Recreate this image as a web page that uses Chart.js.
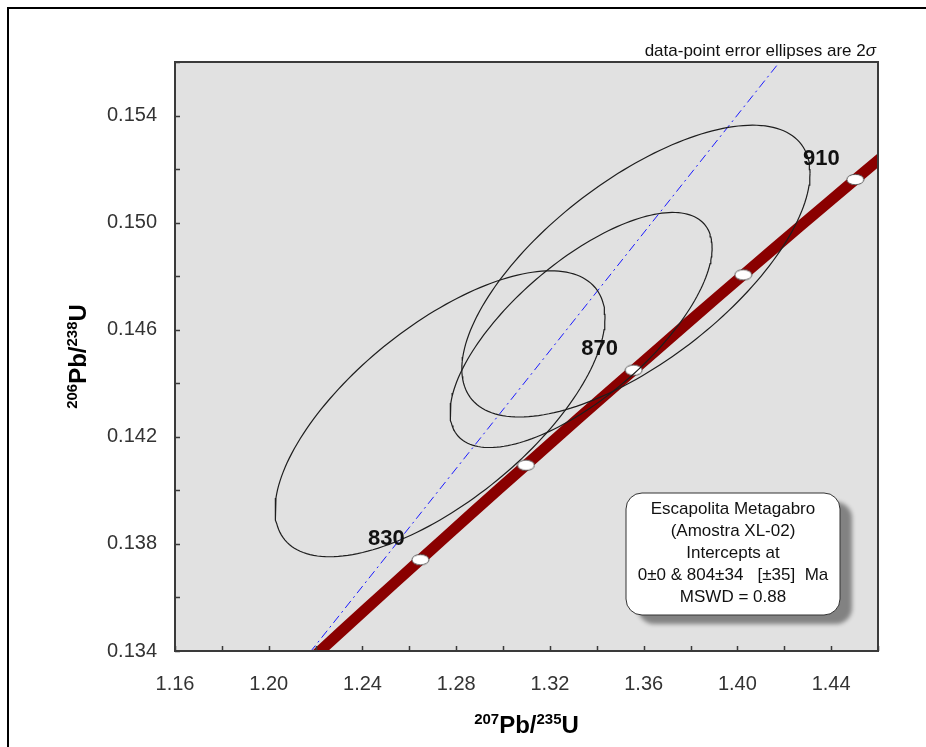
<!DOCTYPE html>
<html>
<head>
<meta charset="utf-8">
<script src="https://cdn.jsdelivr.net/npm/chart.js@4.4.1/dist/chart.umd.min.js"></script>
<style>
  html, body { margin: 0; padding: 0; background: #ffffff; }
  #wrap { position: relative; width: 926px; height: 747px; }
</style>
</head>
<body>
<div id="wrap"><canvas id="c" width="926" height="747"></canvas></div>
<script>
// Concordia curve: ages (Ma) with their 207Pb/235U and 206Pb/238U ratios
const concordiaAges = [800, 810, 820, 830, 840, 850, 860, 870, 880, 890, 900, 910, 920];
const concordiaX = [1.19873, 1.22049, 1.24246, 1.26472, 1.28707, 1.30977, 1.33256, 1.35572, 1.37896, 1.40251, 1.42629, 1.45030, 1.47455];
const concordiaY = [0.13213, 0.13389, 0.13565, 0.13741, 0.13918, 0.14094, 0.14272, 0.14449, 0.14627, 0.14805, 0.14983, 0.15161, 0.15340];
const markerAges = [830, 850, 870, 890, 910];
const labelledAges = [830, 870, 910];

// Analyses: 2-sigma error ellipses (centre, half-widths, error correlation)
const spotX = [1.2731, 1.3333, 1.3567];
const spotSX = [0.0704, 0.0559, 0.0743];
const spotY = [0.14286, 0.14599, 0.14819];
const spotSY = [0.00534, 0.00439, 0.00545];
const spotRho = [0.67, 0.70, 0.67];

// Discordia: from the upper intercept (804 Ma) towards the lower one (0 Ma)
const discordiaX = [1.20741, 1.41800];
const discordiaY = [0.13283, 0.15600];

// Axis ticks
const xTicks = [1.16, 1.18, 1.20, 1.22, 1.24, 1.26, 1.28, 1.30, 1.32, 1.34, 1.36, 1.38, 1.40, 1.42, 1.44, 1.46];
const xTickLabels = ['1.16', '1.20', '1.24', '1.28', '1.32', '1.36', '1.40', '1.44'];
const yTicks = [0.134, 0.136, 0.138, 0.140, 0.142, 0.144, 0.146, 0.148, 0.150, 0.152, 0.154, 0.156];
const yTickLabels = ['0.134', '0.138', '0.142', '0.146', '0.150', '0.154'];

const boxLines = ['Escapolita Metagabro', '(Amostra XL-02)', 'Intercepts at', '0\u00b10 & 804\u00b134   [\u00b135]  Ma', 'MSWD = 0.88'];

const FONT = '"Liberation Sans", Arial, sans-serif';

function ellipsePoints(i) {
  const pts = [];
  const n = 180;
  const k = Math.sqrt(1 - spotRho[i] * spotRho[i]);
  for (let j = 0; j <= n; j++) {
    const t = 2 * Math.PI * j / n;
    pts.push({
      x: spotX[i] + spotSX[i] * Math.cos(t),
      y: spotY[i] + spotSY[i] * (spotRho[i] * Math.cos(t) + k * Math.sin(t))
    });
  }
  return pts;
}

// small white ellipse used for the age markers
const markerImg = document.createElement('canvas');
markerImg.width = 19; markerImg.height = 13;
(function () {
  const g = markerImg.getContext('2d');
  g.beginPath();
  g.ellipse(9.5, 6.5, 8.5, 5.2, 0, 0, 2 * Math.PI);
  g.fillStyle = '#ffffff';
  g.fill();
  g.lineWidth = 1;
  g.strokeStyle = '#555555';
  g.stroke();
})();

const concordiaData = concordiaAges.map((a, i) => ({ x: concordiaX[i], y: concordiaY[i] }));
const markerData = markerAges.map(a => {
  const i = concordiaAges.indexOf(a);
  return { x: concordiaX[i], y: concordiaY[i] };
});

const datasets = [
  { label: 'concordia', data: concordiaData, showLine: true, borderColor: '#8a0000', borderWidth: 11,
    pointRadius: 0, tension: 0.3, order: 5, borderCapStyle: 'butt' },
  { label: 'ages', data: markerData, showLine: false, pointStyle: markerImg, pointRadius: 7, order: 4 },
  { label: 'discordia', data: discordiaX.map((x, i) => ({ x: x, y: discordiaY[i] })), showLine: true,
    borderColor: '#1a1aff', borderWidth: 1, borderDash: [9, 4, 2, 4], pointRadius: 0, order: 3 }
];
spotX.forEach((_, i) => {
  datasets.push({ label: 'spot' + (i + 1), data: ellipsePoints(i), showLine: true, borderColor: '#1e1e1e',
    borderWidth: 1.2, pointRadius: 0, tension: 0, order: 1 });
});

function drawRich(ctx, parts, x, y, align) {
  // parts: [text, fontSize, rise]
  let total = 0;
  parts.forEach(p => { ctx.font = 'bold ' + p[1] + 'px ' + FONT; total += ctx.measureText(p[0]).width; });
  let cx = align === 'center' ? x - total / 2 : x;
  ctx.textAlign = 'left';
  ctx.textBaseline = 'alphabetic';
  parts.forEach(p => {
    ctx.font = 'bold ' + p[1] + 'px ' + FONT;
    ctx.fillText(p[0], cx, y - p[2]);
    cx += ctx.measureText(p[0]).width;
  });
}

const decor = {
  id: 'decor',
  beforeDraw(chart) {
    const { ctx, chartArea: a } = chart;
    ctx.save();
    ctx.fillStyle = '#ffffff';
    ctx.fillRect(0, 0, chart.width, chart.height);
    ctx.fillStyle = '#e1e1e1';
    ctx.fillRect(a.left, a.top, a.right - a.left, a.bottom - a.top);
    ctx.restore();
  },
  afterDraw(chart) {
    const { ctx, chartArea: a, scales } = chart;
    const xs = scales.x, ys = scales.y;
    ctx.save();

    // age labels on the concordia
    ctx.fillStyle = '#111111';
    ctx.font = 'bold 22px ' + FONT;
    ctx.textAlign = 'center';
    ctx.textBaseline = 'middle';
    labelledAges.forEach(age => {
      const i = concordiaAges.indexOf(age);
      const px = xs.getPixelForValue(concordiaX[i]);
      const py = ys.getPixelForValue(concordiaY[i]);
      ctx.fillText(String(age), px - 34, py - 21);
    });

    // plot frame
    ctx.strokeStyle = '#3a3a3a';
    ctx.lineWidth = 2;
    ctx.strokeRect(a.left, a.top, a.right - a.left, a.bottom - a.top);

    // inward tick marks
    ctx.lineWidth = 1.5;
    ctx.beginPath();
    xTicks.forEach(v => {
      const px = Math.round(xs.getPixelForValue(v)) + 0.5;
      ctx.moveTo(px, a.bottom);
      ctx.lineTo(px, a.bottom - 5);
    });
    yTicks.forEach(v => {
      const py = Math.round(ys.getPixelForValue(v)) + 0.5;
      ctx.moveTo(a.left, py);
      ctx.lineTo(a.left + 5, py);
    });
    ctx.stroke();

    // results box
    const bx = 626, by = 493, bw = 214, bh = 122;
    ctx.save();
    ctx.shadowColor = 'rgba(0,0,0,0.42)';
    ctx.shadowBlur = 4;
    ctx.shadowOffsetX = 12;
    ctx.shadowOffsetY = 9;
    ctx.beginPath();
    ctx.roundRect(bx, by, bw, bh, 16);
    ctx.fillStyle = '#ffffff';
    ctx.fill();
    ctx.restore();
    ctx.beginPath();
    ctx.roundRect(bx, by, bw, bh, 16);
    ctx.strokeStyle = '#333333';
    ctx.lineWidth = 1;
    ctx.stroke();
    ctx.fillStyle = '#111111';
    ctx.font = '17px ' + FONT;
    ctx.textAlign = 'center';
    ctx.textBaseline = 'middle';
    boxLines.forEach((t, i) => ctx.fillText(t, bx + bw / 2, 509 + i * 22));

    // note above the plot
    ctx.textAlign = 'right';
    ctx.textBaseline = 'alphabetic';
    ctx.font = 'italic 17px ' + FONT;
    const sig = '\u03c3';
    const sw = ctx.measureText(sig).width;
    ctx.fillText(sig, a.right - 2, 56);
    ctx.font = '17px ' + FONT;
    ctx.fillText('data-point error ellipses are 2', a.right - 2 - sw, 56);

    // axis titles
    ctx.fillStyle = '#000000';
    const midX = (a.left + a.right) / 2;
    drawRich(ctx, [['207', 15, 9], ['Pb/', 24, 0], ['235', 15, 9], ['U', 24, 0]], midX, 733, 'center');
    ctx.save();
    ctx.translate(86, (a.top + a.bottom) / 2);
    ctx.rotate(-Math.PI / 2);
    drawRich(ctx, [['206', 15, 9], ['Pb/', 24, 0], ['238', 15, 9], ['U', 24, 0]], 0, 0, 'center');
    ctx.restore();

    // outer frame
    ctx.strokeStyle = '#000000';
    ctx.lineWidth = 2;
    ctx.beginPath();
    ctx.moveTo(8, chart.height);
    ctx.lineTo(8, 8);
    ctx.lineTo(chart.width, 8);
    ctx.stroke();

    ctx.restore();
  }
};

new Chart(document.getElementById('c'), {
  type: 'scatter',
  data: { datasets: datasets },
  options: {
    responsive: false,
    animation: false,
    devicePixelRatio: 1,
    layout: { padding: { top: 62, right: 48, left: 0, bottom: 0 } },
    plugins: { legend: { display: false }, tooltip: { enabled: false }, title: { display: false } },
    scales: {
      x: {
        type: 'linear', min: 1.16, max: 1.46,
        afterFit(s) { s.height = 96; },
        afterBuildTicks(s) { s.ticks = xTicks.map(v => ({ value: v })); },
        grid: { display: false, drawTicks: false },
        border: { display: false },
        ticks: {
          autoSkip: false, maxRotation: 0, padding: 21, color: '#333333',
          font: { family: FONT, size: 20 },
          callback(v) {
            const s = v.toFixed(2);
            return xTickLabels.includes(s) ? s : '';
          }
        }
      },
      y: {
        type: 'linear', min: 0.134, max: 0.156,
        afterFit(s) { s.width = 175; },
        afterBuildTicks(s) { s.ticks = yTicks.map(v => ({ value: v })); },
        grid: { display: false, drawTicks: false },
        border: { display: false },
        ticks: {
          autoSkip: false, padding: 18, color: '#333333',
          font: { family: FONT, size: 20 },
          callback(v) {
            const s = v.toFixed(3);
            return yTickLabels.includes(s) ? s : '';
          }
        }
      }
    }
  },
  plugins: [decor]
});
</script>
</body>
</html>
